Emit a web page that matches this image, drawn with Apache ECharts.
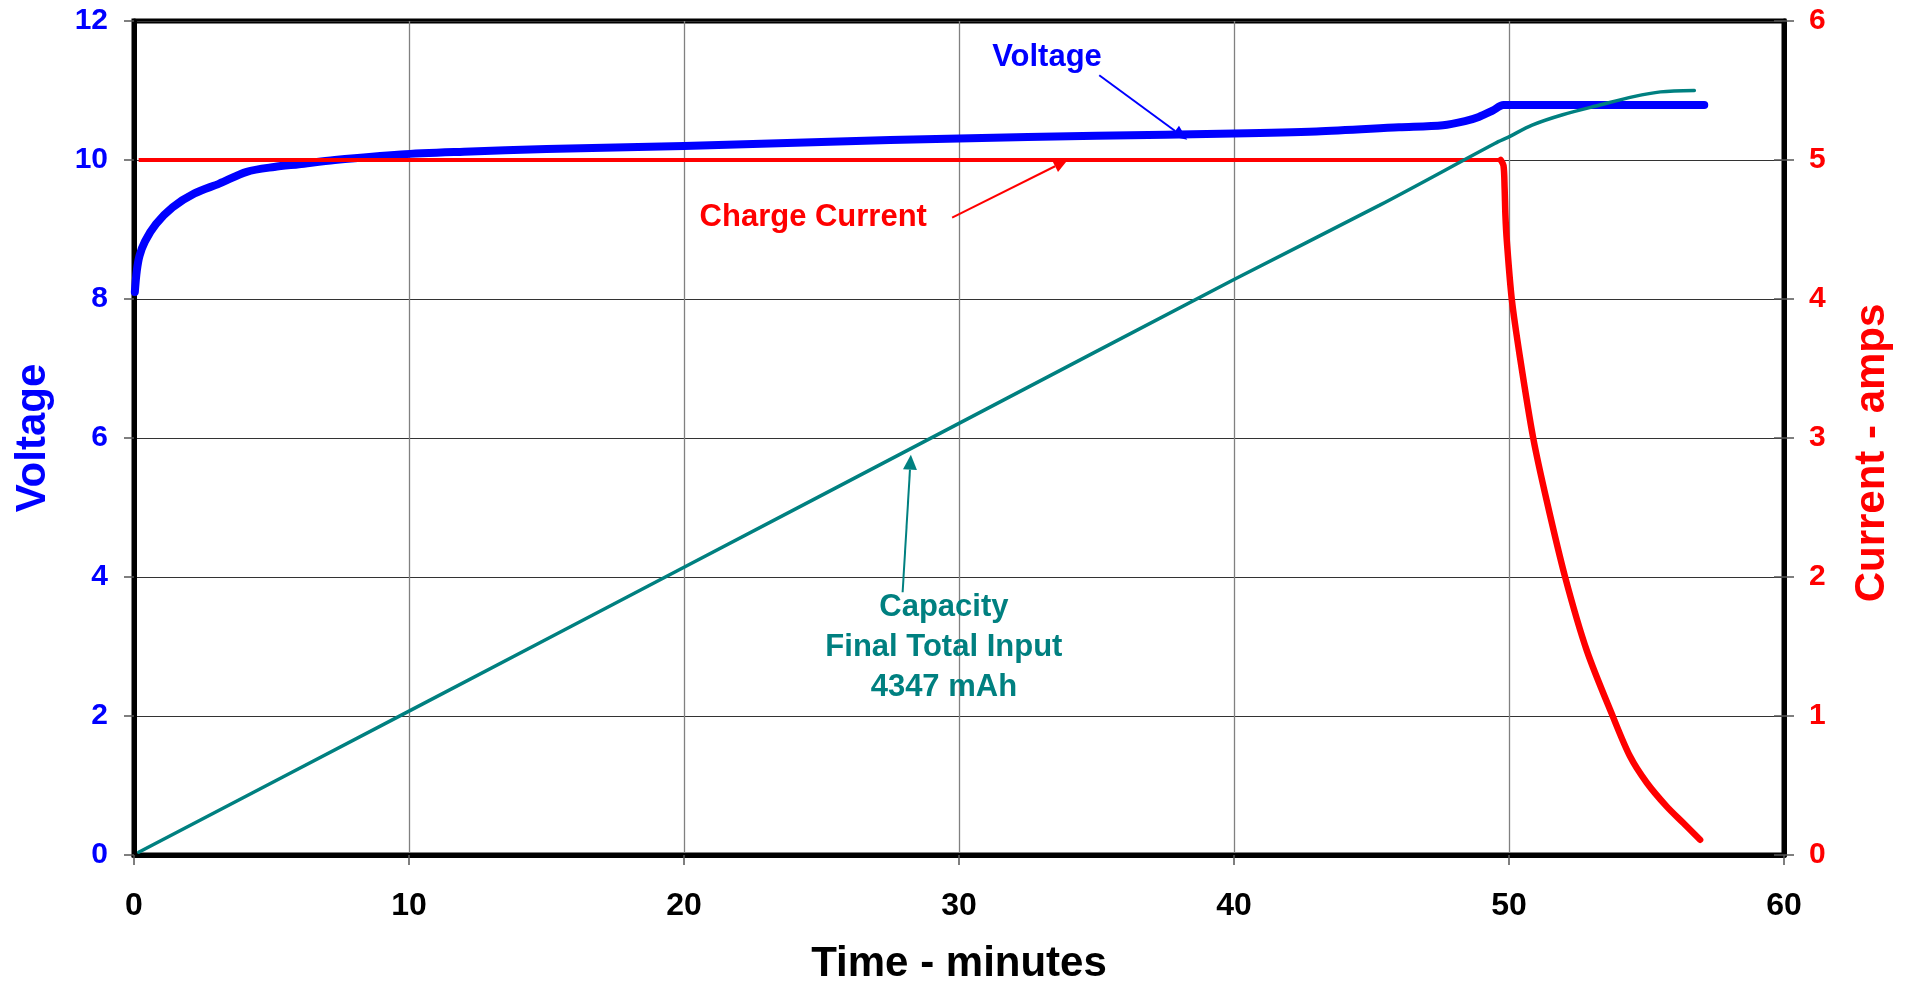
<!DOCTYPE html>
<html>
<head>
<meta charset="utf-8">
<script src="https://cdn.jsdelivr.net/npm/echarts@6/dist/echarts.min.js"></script>
<style>
  html, body { margin: 0; padding: 0; background: #ffffff; }
  #chart { width: 1910px; height: 988px; }
</style>
</head>
<body>
<div id="chart"></div>
<script>
// Battery charge log: pack voltage, charge current and accumulated capacity vs time.

// X axis ticks (minutes)
const xTicks = [0, 10, 20, 30, 40, 50, 60];
// Left axis ticks (volts) and right axis ticks (amps)
const voltTicks = [0, 2, 4, 6, 8, 10, 12];
const ampTicks = [0, 1, 2, 3, 4, 5, 6];

// Pack voltage
const voltTime = [0.03, 0.1, 0.2, 0.4, 0.8, 1.4, 2.2, 3.1, 4.1, 5.1, 6.0, 7.3, 9.7, 12, 15, 20, 25, 30, 35, 40, 43, 46, 47.6, 48.4, 48.9, 49.4, 49.8, 53, 57.1];
const voltage  = [8.1, 8.4, 8.62, 8.83, 9.08, 9.32, 9.52, 9.66, 9.83, 9.9, 9.94, 10.0, 10.08, 10.12, 10.16, 10.2, 10.26, 10.31, 10.35, 10.38, 10.41, 10.47, 10.5, 10.56, 10.62, 10.71, 10.79, 10.79, 10.79];

// Charge current, constant-current phase
const ccTime = [0.17, 10, 20, 30, 40, 49.7];
const ccAmps = [5.0, 5.0, 5.0, 5.0, 5.0, 5.0];

// Charge current, taper after termination
const taperTime = [49.7, 49.8, 49.84, 49.87, 49.92, 50.1, 50.4, 50.88, 51.37, 52.04, 52.83, 53.79, 54.4, 55.01, 55.73, 56.34, 56.95];
const taperAmps = [5.0, 4.96, 4.8, 4.6, 4.42, 4.0, 3.58, 3.0, 2.55, 2.0, 1.47, 0.99, 0.71, 0.52, 0.35, 0.23, 0.11];

// Accumulated capacity (mAh)
const capTime = [0.17, 10, 20, 30, 40, 45.3, 49.5, 49.98, 50.84, 51.95, 53.3, 54.53, 55.51, 56.74];
const capMah  = [16, 818, 1636, 2454, 3272, 3695, 4047, 4082, 4150, 4209, 4264, 4312, 4339, 4347];
const capAxisMax = 4742;

const FONT = '"Liberation Sans", Arial, sans-serif';
const BLUE = '#0000ff';
const RED = '#ff0000';
const TEAL = '#008080';

const pairs = (xs, ys) => xs.map((x, i) => [x, ys[i]]);

const chart = echarts.init(document.getElementById('chart'), null, { renderer: 'canvas' });

const option = {
  backgroundColor: '#ffffff',
  animation: false,
  textStyle: { fontFamily: FONT },
  grid: {
    left: 134, right: 126, top: 21, bottom: 133,
    show: true, borderColor: '#000', borderWidth: 5, backgroundColor: 'transparent',
    outerBoundsMode: 'none'
  },
  xAxis: {
    type: 'value',
    min: xTicks[0], max: xTicks[xTicks.length - 1], interval: 10,
    name: 'Time - minutes', nameLocation: 'middle', nameGap: 88,
    nameTextStyle: { color: '#000', fontSize: 42, fontWeight: 'bold', fontFamily: FONT },
    axisLine: { show: true, lineStyle: { color: '#000', width: 5 } },
    axisTick: { show: true, length: 10, lineStyle: { color: '#555', width: 1.5 } },
    axisLabel: { color: '#000', fontSize: 32, fontWeight: 'bold', margin: 35, fontFamily: FONT },
    splitLine: { show: true, lineStyle: { color: '#808080', width: 1.3 } }
  },
  yAxis: [
    {
      type: 'value', position: 'left',
      min: voltTicks[0], max: voltTicks[voltTicks.length - 1], interval: 2,
      name: 'Voltage', nameLocation: 'middle', nameGap: 80, nameRotate: 90,
      nameTextStyle: { color: BLUE, fontSize: 42, fontWeight: 'bold', fontFamily: FONT },
      axisLine: { show: true, lineStyle: { color: '#000', width: 5 } },
      axisTick: { show: true, length: 10, lineStyle: { color: '#555', width: 1.5 } },
      axisLabel: { color: BLUE, fontSize: 30, fontWeight: 'bold', margin: 26, fontFamily: FONT },
      splitLine: { show: true, lineStyle: { color: '#333333', width: 1.2 } }
    },
    {
      type: 'value', position: 'right',
      min: ampTicks[0], max: ampTicks[ampTicks.length - 1], interval: 1,
      name: 'Current - amps', nameLocation: 'middle', nameGap: 67, nameRotate: 90,
      nameTextStyle: { color: RED, fontSize: 42, fontWeight: 'bold', fontFamily: FONT, padding: [0, 30, 0, 0] },
      axisLine: { show: true, lineStyle: { color: '#000', width: 5 } },
      axisTick: { show: true, length: 10, lineStyle: { color: '#555', width: 1.5 } },
      axisLabel: { color: RED, fontSize: 30, fontWeight: 'bold', margin: 25, fontFamily: FONT },
      splitLine: { show: false }
    },
    {
      type: 'value', show: false, position: 'left',
      min: 0, max: capAxisMax
    },
    {
      // inner tick marks on the right-hand axis
      type: 'value', position: 'right',
      min: ampTicks[0], max: ampTicks[ampTicks.length - 1], interval: 1,
      axisLine: { show: false },
      axisTick: { show: true, inside: true, length: 10, lineStyle: { color: '#555', width: 1.5 } },
      axisLabel: { show: false },
      splitLine: { show: false }
    }
  ],
  series: [
    {
      name: 'Voltage', type: 'line', yAxisIndex: 0,
      data: pairs(voltTime, voltage),
      showSymbol: false, smooth: 0.3,
      lineStyle: { color: BLUE, width: 8, cap: 'round', join: 'round' }
    },
    {
      name: 'Charge Current', type: 'line', yAxisIndex: 1,
      data: pairs(ccTime, ccAmps),
      showSymbol: false,
      lineStyle: { color: RED, width: 4 }
    },
    {
      name: 'Charge Current Taper', type: 'line', yAxisIndex: 1,
      data: pairs(taperTime, taperAmps),
      showSymbol: false, smooth: 0.3,
      lineStyle: { color: RED, width: 6.5, cap: 'round', join: 'round' }
    },
    {
      name: 'Capacity', type: 'line', yAxisIndex: 2,
      data: pairs(capTime, capMah),
      showSymbol: false, smooth: 0.3,
      lineStyle: { color: TEAL, width: 3.5, cap: 'round' }
    }
  ]
};

chart.setOption(option);

// Callouts, positioned in time / voltage-axis units
const callouts = [
  { color: BLUE,  lines: ['Voltage'], text: [33.2, 11.48], from: [35.1, 11.22], to: [38.3, 10.29], head: 15, headW: 13 },
  { color: RED,   lines: ['Charge Current'], text: [24.7, 9.17], from: [29.75, 9.17], to: [33.95, 10.0], head: 14, headW: 13 },
  { color: TEAL,  lines: ['Capacity', 'Final Total Input', '4347 mAh'], text: [29.45, 3.56], from: [27.95, 3.78], to: [28.25, 5.76], head: 15, headW: 14 }
];

const toPx = (p) => chart.convertToPixel({ xAxisIndex: 0, yAxisIndex: 0 }, p);

const graphics = [];
callouts.forEach((c) => {
  const t = toPx(c.text);
  c.lines.forEach((ln, i) => {
    graphics.push({
      type: 'text', x: t[0], y: t[1] + i * 40, z: 100,
      style: {
        text: ln, fill: c.color, font: 'bold 31px ' + FONT,
        textAlign: 'center', textVerticalAlign: 'middle'
      }
    });
  });
  const a = toPx(c.from);
  const b = toPx(c.to);
  const dx = b[0] - a[0], dy = b[1] - a[1];
  const len = Math.sqrt(dx * dx + dy * dy);
  const ux = dx / len, uy = dy / len;
  const bx = b[0] - ux * c.head, by = b[1] - uy * c.head;
  graphics.push({
    type: 'line', z: 100,
    shape: { x1: a[0], y1: a[1], x2: bx, y2: by },
    style: { stroke: c.color, lineWidth: 2 }
  });
  graphics.push({
    type: 'polygon', z: 100,
    shape: { points: [
      [b[0], b[1]],
      [bx - uy * c.headW / 2, by + ux * c.headW / 2],
      [bx + uy * c.headW / 2, by - ux * c.headW / 2]
    ] },
    style: { fill: c.color }
  });
});

chart.setOption({ graphic: graphics });
</script>
</body>
</html>
